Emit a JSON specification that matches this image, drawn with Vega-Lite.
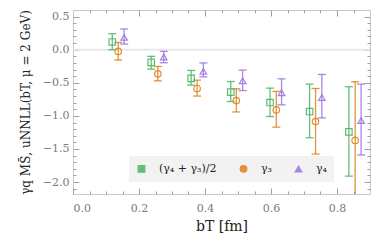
{
  "$schema": "https://vega.github.io/schema/vega-lite/v6.json",
  "width": 297,
  "height": 184,
  "autosize": "none",
  "padding": {"left": 73, "top": 10, "right": 12, "bottom": 49},
  "background": "white",
  "config": {
    "view": {"stroke": "#c8c8c8", "strokeWidth": 1},
    "font": "DejaVu Serif",
    "axis": {
      "domain": false,
      "grid": false,
      "ticks": true,
      "zindex": 1,
      "tickWidth": 1,
      "tickOpacity": 1,
      "labelFont": "DejaVu Serif",
      "labelFontSize": 11,
      "labelColor": "#7a7a7a",
      "tickColor": "#a0a0a0",
      "titleFont": "DejaVu Serif",
      "titleFontWeight": "normal",
      "titleColor": "#222222"
    }
  },
  "data": {
    "values": [
      {"series": "(γ₄ + γ₃)/2", "bT": 0.119, "y": 0.117, "lo": 0.0, "hi": 0.242},
      {"series": "γ₃", "bT": 0.137, "y": -0.026, "lo": -0.156, "hi": 0.11},
      {"series": "γ₄", "bT": 0.155, "y": 0.186, "lo": 0.086, "hi": 0.314},
      {"series": "(γ₄ + γ₃)/2", "bT": 0.237, "y": -0.192, "lo": -0.293, "hi": -0.1},
      {"series": "γ₃", "bT": 0.257, "y": -0.364, "lo": -0.47, "hi": -0.253},
      {"series": "γ₄", "bT": 0.275, "y": -0.111, "lo": -0.197, "hi": -0.025},
      {"series": "(γ₄ + γ₃)/2", "bT": 0.358, "y": -0.434, "lo": -0.535, "hi": -0.313},
      {"series": "γ₃", "bT": 0.376, "y": -0.586, "lo": -0.7, "hi": -0.46},
      {"series": "γ₄", "bT": 0.395, "y": -0.328, "lo": -0.41, "hi": -0.2},
      {"series": "(γ₄ + γ₃)/2", "bT": 0.478, "y": -0.641, "lo": -0.783, "hi": -0.48},
      {"series": "γ₃", "bT": 0.495, "y": -0.768, "lo": -0.94, "hi": -0.59},
      {"series": "γ₄", "bT": 0.514, "y": -0.47, "lo": -0.617, "hi": -0.308},
      {"series": "(γ₄ + γ₃)/2", "bT": 0.597, "y": -0.798, "lo": -1.01, "hi": -0.58},
      {"series": "γ₃", "bT": 0.616, "y": -0.909, "lo": -1.17, "hi": -0.63},
      {"series": "γ₄", "bT": 0.632, "y": -0.652, "lo": -0.833, "hi": -0.44},
      {"series": "(γ₄ + γ₃)/2", "bT": 0.717, "y": -0.934, "lo": -1.33, "hi": -0.52},
      {"series": "γ₃", "bT": 0.735, "y": -1.086, "lo": -1.576, "hi": -0.586},
      {"series": "γ₄", "bT": 0.754, "y": -0.722, "lo": -1.03, "hi": -0.374},
      {"series": "(γ₄ + γ₃)/2", "bT": 0.836, "y": -1.242, "lo": -1.91, "hi": -0.56},
      {"series": "γ₃", "bT": 0.855, "y": -1.37, "lo": -2.4, "hi": -0.485},
      {"series": "γ₄", "bT": 0.873, "y": -1.07, "lo": -1.59, "hi": -0.52}
    ]
  },
  "layer": [
    {
      "data": {"values": [{"z": 0}]},
      "mark": {"type": "rule", "color": "#e8e8e8", "strokeWidth": 2},
      "encoding": {"y": {"field": "z", "type": "quantitative", "axis": null}}
    },
    {
      "mark": {"type": "errorbar", "ticks": {"size": 8}, "thickness": 1.3, "clip": true},
      "encoding": {
        "x": {"field": "bT", "type": "quantitative", "axis": null},
        "y": {"field": "lo", "type": "quantitative", "axis": null},
        "y2": {"field": "hi"},
        "color": {"field": "series", "type": "nominal"},
        "opacity": {"value": 0.85}
      }
    },
    {
      "mark": {"type": "point", "filled": false, "strokeWidth": 1.2, "size": 42, "clip": true},
      "encoding": {
        "x": {
          "field": "bT", "type": "quantitative",
          "scale": {"domain": [0, 0.9], "nice": false, "zero": false},
          "axis": {
            "orient": "bottom",
            "title": "bT [fm]",
            "titleFontSize": 14,
            "titlePadding": 6,
            "values": [0, 0.05, 0.1, 0.15, 0.2, 0.25, 0.3, 0.35, 0.4, 0.45, 0.5, 0.55, 0.6, 0.65, 0.7, 0.75, 0.8, 0.85],
            "labelExpr": "(abs(round(datum.value*20) % 4) == 0) ? format(datum.value, '.1f') : ''",
            "tickSize": {"condition": {"test": "abs(round(datum.value*20) % 4) == 0", "value": -6}, "value": -3},
            "labelPadding": 14
          }
        },
        "y": {
          "field": "y", "type": "quantitative",
          "scale": {"domain": [-2.18, 0.6], "nice": false, "zero": false},
          "axis": {
            "orient": "left",
            "title": "γq MS̄, uNNLL(bT, μ = 2 GeV)",
            "titleFontSize": 12,
            "titlePadding": 10,
            "values": [-2.1, -2.0, -1.9, -1.8, -1.7, -1.6, -1.5, -1.4, -1.3, -1.2, -1.1, -1.0, -0.9, -0.8, -0.7, -0.6, -0.5, -0.4, -0.3, -0.2, -0.1, 0, 0.1, 0.2, 0.3, 0.4, 0.5],
            "labelExpr": "(abs(round(datum.value*10) % 5) == 0) ? format(datum.value, '.1f') : ''",
            "tickSize": {"condition": {"test": "abs(round(datum.value*10) % 5) == 0", "value": -6}, "value": -3},
            "labelPadding": 10
          }
        },
        "color": {
          "field": "series", "type": "nominal",
          "scale": {"domain": ["(γ₄ + γ₃)/2", "γ₃", "γ₄"], "range": ["#49b565", "#e0801a", "#9d72e0"]},
          "legend": {
            "title": null,
            "orient": "none",
            "legendX": 56,
            "legendY": 146,
            "direction": "horizontal",
            "fillColor": "#f2f2f2",
            "padding": 7,
            "labelFont": "DejaVu Serif",
            "labelFontSize": 11,
            "labelColor": "#222222",
            "labelOffset": 12,
            "columnPadding": 20,
            "symbolSize": 45,
            "symbolStrokeWidth": 1.2,
            "symbolFillColor": "transparent",
            "encode": {"symbols": {"update": {"fill": {"value": "transparent"}}}}
          }
        },
        "shape": {
          "field": "series", "type": "nominal",
          "scale": {"domain": ["(γ₄ + γ₃)/2", "γ₃", "γ₄"], "range": ["square", "circle", "triangle-up"]},
          "legend": {
            "title": null,
            "orient": "none",
            "legendX": 56,
            "legendY": 146,
            "direction": "horizontal"
          }
        },
        "opacity": {"value": 0.9}
      }
    },
    {
      "data": {"values": [{"a": 0}]},
      "mark": {"type": "point", "opacity": 0},
      "encoding": {
        "x": {
          "field": "a", "type": "quantitative",
          "axis": {
            "orient": "top", "title": null, "labels": false,
            "values": [0.05, 0.1, 0.15, 0.2, 0.25, 0.3, 0.35, 0.4, 0.45, 0.5, 0.55, 0.6, 0.65, 0.7, 0.75, 0.8, 0.85],
            "tickSize": {"condition": {"test": "abs(round(datum.value*20) % 4) == 0", "value": -6}, "value": -3}
          }
        },
        "y": {
          "field": "a", "type": "quantitative",
          "axis": {
            "orient": "right", "title": null, "labels": false,
            "values": [-2.1, -2.0, -1.9, -1.8, -1.7, -1.6, -1.5, -1.4, -1.3, -1.2, -1.1, -1.0, -0.9, -0.8, -0.7, -0.6, -0.5, -0.4, -0.3, -0.2, -0.1, 0, 0.1, 0.2, 0.3, 0.4, 0.5],
            "tickSize": {"condition": {"test": "abs(round(datum.value*10) % 5) == 0", "value": -6}, "value": -3}
          }
        }
      }
    }
  ],
  "resolve": {"axis": {"x": "independent", "y": "independent"}}
}
